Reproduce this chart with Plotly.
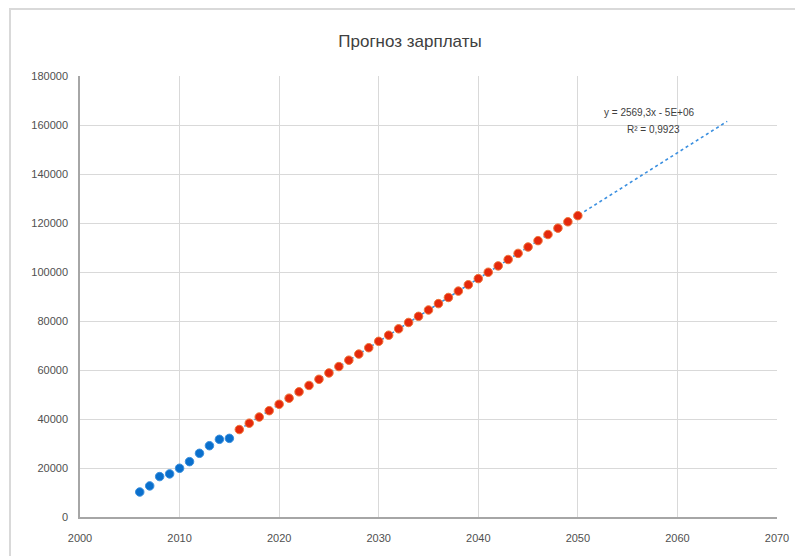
import plotly.graph_objects as go

# Actual data (blue)
years_actual = list(range(2006, 2016))
salary_actual = [10200, 12700, 16500, 17600, 19900, 22600, 26000, 29100, 31700, 32100]

# Forecast (red)
years_forecast = list(range(2016, 2051))
salary_forecast = [35700, 38300, 40800, 43400, 46000, 48500, 51100, 53700, 56200, 58800,
                   61400, 64000, 66500, 69100, 71700, 74200, 76800, 79400, 81900, 84500,
                   87100, 89600, 92200, 94800, 97300, 99900, 102500, 105100, 107600, 110200,
                   112800, 115300, 117900, 120500, 123000]

# Trend line end points
trend_x = [2016, 2065]
trend_y = [35700, 161500]

title_text = "Прогноз зарплаты"
trend_eq = "y = 2569,3x - 5E+06"
trend_r2 = "R² = 0,9923"

x_ticks = [2000, 2010, 2020, 2030, 2040, 2050, 2060, 2070]
y_ticks = [0, 20000, 40000, 60000, 80000, 100000, 120000, 140000, 160000, 180000]

fig = go.Figure()
fig.add_trace(go.Scatter(x=trend_x, y=trend_y, mode="lines",
                         line=dict(color="#3A8FE0", width=1.6, dash="dot"),
                         showlegend=False, hoverinfo="skip"))
fig.add_trace(go.Scatter(x=years_actual, y=salary_actual, mode="markers",
                         marker=dict(color="#0A6FCC", size=8.5, line=dict(color="#3A8FDD", width=1)),
                         showlegend=False))
fig.add_trace(go.Scatter(x=years_forecast, y=salary_forecast, mode="markers",
                         marker=dict(color="#E4280C", size=8.5, line=dict(color="#F0763A", width=1)),
                         showlegend=False))

# page body has an 8px margin; positions below are in figure coordinates
OFF = 8
W, H = 803, 556
L, T = 80 - OFF, 76 - OFF
R = W - (777 - OFF)
B = H - (517 - OFF)
pw, ph = W - L - R, H - T - B

fig.update_layout(
    width=W, height=H,
    margin=dict(l=L, r=R, t=T, b=B, autoexpand=False),
    paper_bgcolor="white", plot_bgcolor="white",
    font=dict(family="Liberation Sans, Arial, sans-serif", color="#595959", size=11),
    title=dict(text=title_text, x=(410 - OFF) / W, xanchor="center", y=1 - (41 - OFF) / H,
               yanchor="middle", font=dict(size=17, color="#404040")),
    xaxis=dict(range=[2000, 2070], tickvals=x_ticks, showgrid=True, gridcolor="#D9D9D9",
               gridwidth=1, zeroline=False, showline=True, linecolor="#A6A6A6", linewidth=1.5,
               ticks="", ticklabelstandoff=10, tickfont=dict(size=11, color="#505050")),
    yaxis=dict(range=[0, 180000], tickvals=y_ticks, tickformat="d", showgrid=True,
               gridcolor="#D9D9D9", gridwidth=1, zeroline=False, showline=True,
               linecolor="#A6A6A6", linewidth=1.5, ticks="", ticklabelstandoff=8,
               tickfont=dict(size=11, color="#505050")),
    annotations=[
        dict(x=2057.2, y=165300, xref="x", yref="y", text=trend_eq, showarrow=False,
             font=dict(size=10, color="#404040")),
        dict(x=2057.6, y=158300, xref="x", yref="y", text=trend_r2, showarrow=False,
             font=dict(size=10, color="#404040")),
    ],
    shapes=[
        dict(type="line", xref="paper", yref="paper",
             x0=(2 - L) / pw, x1=(2 - L) / pw, y0=(H - B - 0) / ph, y1=(H - B - 560) / ph,
             line=dict(color="#D9D9D9", width=2)),
        dict(type="line", xref="paper", yref="paper",
             x0=(2 - L) / pw, x1=(810 - L) / pw, y0=(H - B - 1) / ph, y1=(H - B - 1) / ph,
             line=dict(color="#D9D9D9", width=2)),
    ],
)

fig.write_html("out.html")
